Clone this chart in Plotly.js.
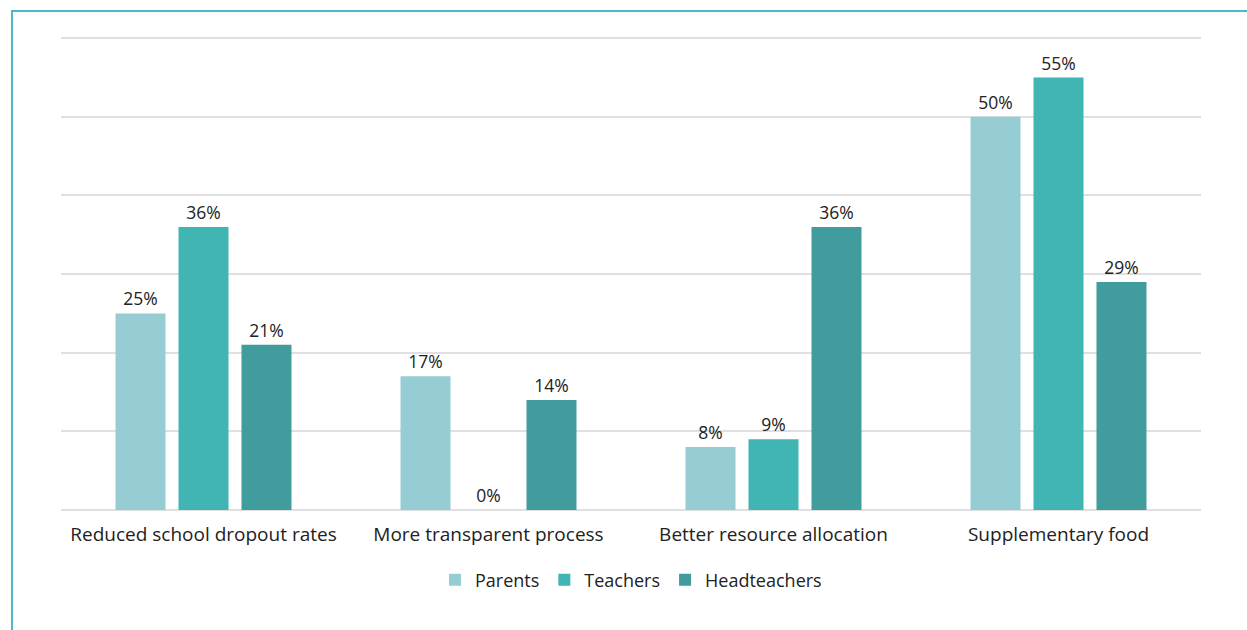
<!DOCTYPE html>
<html><head><meta charset="utf-8">
<script src="https://cdn.plot.ly/plotly-3.0.1.min.js"></script>
<style>body{margin:0;background:#fff}#wrap{position:relative;width:1247px;height:630px}#chart{position:absolute;left:0;top:0;width:1247px;height:630px}#frame{position:absolute;left:11px;top:10px;right:0;bottom:0;border-top:2px solid #4DB8C9;border-left:2px solid #4DB8C9;pointer-events:none}</style>
</head><body><div id="wrap"><div id="chart"></div><div id="frame"></div></div>
<script>
const categories = ["Reduced school dropout rates", "More transparent process", "Better resource allocation", "Supplementary food"];
const parents = [25, 17, 8, 50];
const teachers = [36, 0, 9, 55];
const headteachers = [21, 14, 36, 29];
const seriesNames = ["Parents", "Teachers", "Headteachers"];
const colors = ["#96CDD4", "#40B5B3", "#419D9D"];
const vals = [parents, teachers, headteachers];
const traces = vals.map((v, i) => ({
  type: 'bar', x: categories, y: v, name: seriesNames[i],
  marker: {color: colors[i]},
  text: v.map(d => d + '%'), textposition: 'outside', cliponaxis: false, constraintext: 'none',
  textfont: {family: 'Open Sans, sans-serif', size: 17.5, color: '#222'},
  hoverinfo: 'skip'
}));
const layout = {
  width: 1247, height: 630,
  margin: {l: 61, r: 46, t: 37, b: 120},
  paper_bgcolor: '#fff', plot_bgcolor: '#fff',
  barmode: 'group', bargap: 0.337, bargroupgap: 0.206,
  font: {family: 'Open Sans, sans-serif', color: '#222'},
  xaxis: {showgrid: false, showline: false, ticks: 'outside', ticklen: 7, tickcolor: 'rgba(0,0,0,0)',
          tickfont: {size: 19, color: '#222'}, fixedrange: true},
  yaxis: {range: [0, 60.15], tickvals: [0, 10, 20, 30, 40, 50, 60], showticklabels: false, gridcolor: '#e0e0e0', gridwidth: 2,
          zeroline: true, zerolinecolor: '#e0e0e0', zerolinewidth: 2, fixedrange: true},
  showlegend: true,
  legend: {orientation: 'h', x: 0.5, xanchor: 'center', y: -0.148, yanchor: 'middle',
           font: {size: 18, color: '#222'}, itemwidth: 30, traceorder: 'normal'}
};
Plotly.newPlot('chart', traces, layout, {staticPlot: true});
</script></body></html>
